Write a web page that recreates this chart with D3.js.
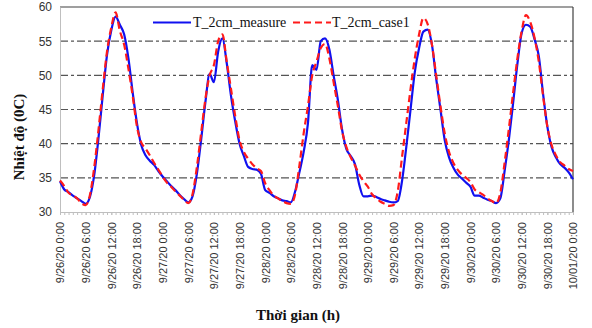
<!DOCTYPE html>
<html>
<head>
<meta charset="utf-8">
<script src="https://cdn.jsdelivr.net/npm/d3@7"></script>
<style>
  body { margin: 0; background: #fff; }
  svg { display: block; }
</style>
</head>
<body>
<svg id="chart"></svg>
<script>
// hourly samples, 9/26/20 0:00 .. 10/01/20 0:00
const measure = [
  34.5, 33.3, 32.9, 32.4, 32.0, 31.6, 31.2, 32.2, 35.4, 40.8, 47.1, 53.0, 56.6, 58.6, 57.4, 56.0, 52.5, 47.5, 43.0, 39.8, 38.3, 37.5, 36.9, 36.0,
  35.2, 34.5, 33.8, 33.2, 32.5, 31.9, 31.4, 32.3, 35.5, 40.5, 46.0, 50.2, 49.0, 53.5, 55.4, 51.8, 47.0, 43.2, 40.0, 38.2, 36.6, 36.3, 36.2, 35.6,
  33.2, 32.8, 32.3, 32.0, 31.7, 31.6, 31.4, 33.0, 35.8, 38.8, 43.0, 51.5, 50.8, 55.0, 55.4, 53.8, 50.0, 46.4, 42.0, 39.2, 38.2, 37.0, 34.0, 32.3,
  32.3, 32.4, 32.2, 31.9, 31.7, 31.5, 31.4, 31.6, 34.5, 39.5, 45.0, 50.5, 54.0, 56.4, 56.7, 54.5, 49.5, 45.0, 40.5, 38.0, 36.5, 35.5, 34.9, 34.3,
  33.7, 32.4, 32.4, 32.1, 31.8, 31.6, 31.3, 32.0, 36.0, 40.6, 46.0, 51.7, 56.2, 57.4, 57.1, 55.3, 52.8, 47.3, 42.5, 39.5, 38.0, 37.0, 36.5, 35.8,
  34.8
];
const case1 = [
  34.6, 33.8, 32.8, 32.4, 32.0, 31.3, 31.0, 32.5, 36.5, 42.0, 48.0, 53.5, 57.0, 59.2, 56.5, 54.5, 51.0, 47.0, 42.5, 40.2, 39.3, 38.3, 37.2, 36.2,
  35.2, 34.3, 33.7, 33.0, 32.4, 31.8, 31.3, 32.6, 36.5, 41.5, 46.5, 50.0, 51.5, 55.0, 56.0, 52.0, 48.0, 44.0, 40.5, 38.8, 37.8, 37.0, 36.4, 36.0,
  34.2, 33.2, 32.4, 32.0, 31.6, 31.3, 31.2, 32.6, 36.8, 41.5, 45.5, 50.0, 52.0, 54.0, 54.6, 52.5, 49.0, 45.5, 41.8, 39.5, 38.0, 36.8, 35.5, 34.5,
  33.7, 32.6, 32.0, 31.5, 31.2, 30.9, 31.0, 33.0, 38.0, 43.0, 48.0, 52.5, 56.0, 58.4, 57.5, 54.5, 50.0, 45.5, 41.5, 38.8, 37.2, 36.2, 35.5, 35.0,
  34.4, 33.3, 32.9, 32.5, 32.0, 31.6, 31.3, 32.8, 37.2, 42.2, 47.5, 52.5, 56.5, 58.8, 57.8, 55.5, 52.0, 47.0, 42.5, 39.8, 38.3, 37.3, 36.8, 36.3,
  36.0
];
const xTickLabels = [
  '9/26/20 0:00', '9/26/20 6:00', '9/26/20 12:00', '9/26/20 18:00',
  '9/27/20 0:00', '9/27/20 6:00', '9/27/20 12:00', '9/27/20 18:00',
  '9/28/20 0:00', '9/28/20 6:00', '9/28/20 12:00', '9/28/20 18:00',
  '9/29/20 0:00', '9/29/20 6:00', '9/29/20 12:00', '9/29/20 18:00',
  '9/30/20 0:00', '9/30/20 6:00', '9/30/20 12:00', '9/30/20 18:00',
  '10/01/20 0:00'
];
const yTicks = [30, 35, 40, 45, 50, 55, 60];
const seriesNames = ['T_2cm_measure', 'T_2cm_case1'];

const width = 592;
const height = 328;
const plotL = 60, plotR = 573, plotT = 7, plotB = 212;

const svg = d3.select('svg#chart')
  .attr('width', width)
  .attr('height', height);

const x = d3.scaleLinear().domain([0, 120]).range([plotL, plotR]);
const y = d3.scaleLinear().domain([30, 60]).range([plotB, plotT]);

// horizontal dash-dot grid
svg.append('g')
  .selectAll('line')
  .data(yTicks.filter(d => d > 30 && d < 60))
  .join('line')
  .attr('x1', plotL)
  .attr('x2', plotR)
  .attr('y1', d => y(d))
  .attr('y2', d => y(d))
  .attr('stroke', '#555')
  .attr('stroke-width', 1.2)
  .attr('stroke-dasharray', '8,3,3,3');

// frame: dark top and right, light left and bottom
svg.append('line')
  .attr('x1', plotL).attr('x2', plotR)
  .attr('y1', plotT).attr('y2', plotT)
  .attr('stroke', '#404040').attr('stroke-width', 1.2);
svg.append('line')
  .attr('x1', plotR).attr('x2', plotR)
  .attr('y1', plotT).attr('y2', plotB)
  .attr('stroke', '#404040').attr('stroke-width', 1.2);

// y axis
const yAxis = svg.append('g')
  .attr('transform', 'translate(' + plotL + ',0)')
  .call(d3.axisLeft(y).tickValues(yTicks).tickSize(0).tickPadding(8));
yAxis.select('.domain').attr('stroke', '#bfbfbf');
yAxis.selectAll('text')
  .attr('font-family', 'Liberation Sans, Arial, sans-serif')
  .attr('font-size', '12px')
  .attr('fill', '#333');

// x axis, hourly minor ticks
const xMinor = svg.append('g')
  .attr('transform', 'translate(0,' + plotB + ')')
  .call(d3.axisBottom(x).tickValues(d3.range(0, 121, 1)).tickSize(3).tickFormat(''));
xMinor.select('.domain').attr('stroke', '#bfbfbf');
xMinor.selectAll('.tick line').attr('stroke', '#bfbfbf');

const xAxis = svg.append('g')
  .attr('transform', 'translate(0,' + plotB + ')')
  .call(d3.axisBottom(x).tickValues(d3.range(0, 121, 6)).tickSize(3)
    .tickFormat((d, i) => xTickLabels[i]));
xAxis.select('.domain').remove();
xAxis.selectAll('.tick line').attr('stroke', '#bfbfbf');
xAxis.selectAll('text')
  .attr('font-family', 'Liberation Sans, Arial, sans-serif')
  .attr('font-size', '11px')
  .attr('fill', '#333')
  .attr('text-anchor', 'end')
  .attr('transform', 'rotate(-90)')
  .attr('x', -10)
  .attr('y', 0)
  .attr('dy', '0.35em');

// lines
const line = d3.line()
  .x((d, i) => x(i))
  .y(d => y(d))
  .curve(d3.curveMonotoneX);

svg.append('path')
  .datum(measure)
  .attr('fill', 'none')
  .attr('stroke', '#1010f0')
  .attr('stroke-width', 2.2)
  .attr('d', line);

svg.append('path')
  .datum(case1)
  .attr('fill', 'none')
  .attr('stroke', '#ff1a1a')
  .attr('stroke-width', 2.2)
  .attr('stroke-dasharray', '7,4')
  .attr('d', line);

// legend
const legend = svg.append('g')
  .attr('font-family', 'Liberation Serif, Times New Roman, serif')
  .attr('font-size', '14px')
  .attr('fill', '#111');
legend.append('line')
  .attr('x1', 153).attr('x2', 191).attr('y1', 22.5).attr('y2', 22.5)
  .attr('stroke', '#1010f0').attr('stroke-width', 2.2);
legend.append('text').attr('x', 193).attr('y', 27).text(seriesNames[0]);
legend.append('line')
  .attr('x1', 293).attr('x2', 331).attr('y1', 22.5).attr('y2', 22.5)
  .attr('stroke', '#ff1a1a').attr('stroke-width', 2.2)
  .attr('stroke-dasharray', '7,4');
legend.append('text').attr('x', 332).attr('y', 27).text(seriesNames[1]);

// axis titles
svg.append('text')
  .attr('x', 298)
  .attr('y', 320)
  .attr('text-anchor', 'middle')
  .attr('font-family', 'Liberation Serif, Times New Roman, serif')
  .attr('font-weight', 'bold')
  .attr('font-size', '15px')
  .attr('fill', '#111')
  .text('Thời gian (h)');

svg.append('text')
  .attr('transform', 'translate(24,137) rotate(-90)')
  .attr('text-anchor', 'middle')
  .attr('font-family', 'Liberation Serif, Times New Roman, serif')
  .attr('font-weight', 'bold')
  .attr('font-size', '15px')
  .attr('fill', '#111')
  .text('Nhiệt độ (0C)');
</script>
</body>
</html>
